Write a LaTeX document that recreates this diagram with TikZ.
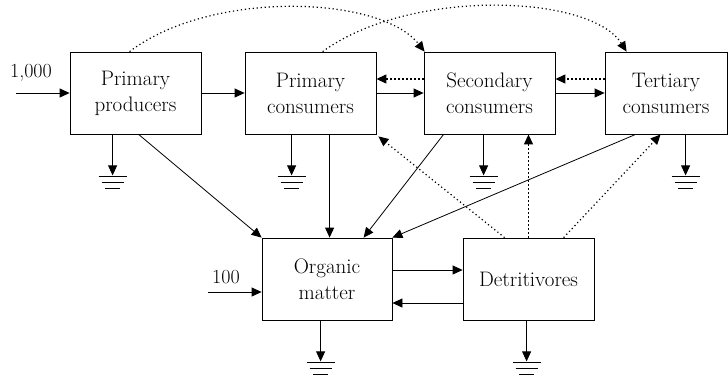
\documentclass[tikz,border=0pt]{standalone}
\usepackage{fontspec}
\usetikzlibrary{arrows.meta}
\begin{document}
\begin{tikzpicture}[x=1pt,y=-1pt,
  lw/.style={line width=0.8pt},
  box/.style={draw,lw,minimum width=131pt,minimum height=82pt,inner sep=0pt,align=center,
    font=\fontsize{21}{26}\selectfont},
  arr/.style={lw,-{Triangle[length=10pt,width=9pt]}},
  dotarr/.style={arr,line width=1.2pt,dash pattern=on 1.2pt off 2.8pt},
  lbl/.style={font=\fontsize{20}{24}\selectfont,inner sep=0pt}]
\useasboundingbox (0,0) rectangle (728,378);
\node[box] (pp) at (135.5,93) {Primary\\producers};
\node[box] (pc) at (310.5,93) {Primary\\consumers};
\node[box] (sc) at (489.5,93) {Secondary\\consumers};
\node[box,minimum width=122pt] (tc) at (666,93) {Tertiary\\consumers};
\node[box,minimum width=130pt] (om) at (327,279) {Organic\\matter};
\node[box] (det) at (528.5,279) {Detritivores};
\node[lbl] (l1) at (31,73) {1,000};
\node[lbl] (l2) at (226,277) {100};
\coordinate (in1) at (16,93);
\coordinate (in2) at (208,292);
% inputs
\draw[arr] (in1) -- (pp.west);
\draw[arr] (in2) -- ([yshift=-13pt]om.west);
% chain
\draw[arr] (pp.east) -- (pc.west);
\draw[arr] (pc.east) -- (sc.west);
\draw[arr] (sc.east) -- (tc.west);
\draw[dotarr] ([yshift=14pt]sc.west) -- ([yshift=14pt]pc.east);
\draw[dotarr] ([yshift=14pt]tc.west) -- ([yshift=14pt]sc.east);
% to organic matter
\draw[arr] ([xshift=69pt]pp.south west) -- (om.north west);
\draw[arr] ([xshift=85pt]pc.south west) -- ([xshift=68pt]om.north west);
\draw[arr] ([xshift=20pt]sc.south west) -- ([xshift=102pt]om.north west);
\draw[arr] ([xshift=31pt]tc.south west) -- (om.north east);
% organic <-> detritivores
\draw[arr] ([yshift=9pt]om.east) -- ([yshift=9pt]det.west);
\draw[arr] ([yshift=-24pt]det.west) -- ([yshift=-24pt]om.east);
% detritivores dotted
\draw[dotarr] ([xshift=42pt]det.north west) -- ([xshift=2pt,yshift=-2pt]pc.south east);
\draw[dotarr] (det.north) -- (det.north |- sc.south);
\draw[dotarr] ([xshift=101pt]det.north west) -- ([xshift=56pt]tc.south west);
% top curves
\draw[dotarr] ([xshift=60pt]pp.north west) .. controls (210,-10) and (380,-5) .. ([xshift=1pt]sc.north west);
\draw[dotarr] ([xshift=78pt]pc.north west) .. controls (410,-12) and (590,-6) .. ([xshift=22pt]tc.north west);
% grounds
\foreach \n/\dx in {pp/43,pc/47,sc/60,tc/81,om/59,det/64}{
  \draw[arr] ([xshift=\dx pt]\n.south west) -- ++(0,41) coordinate (g\n);
  \draw[lw] (g\n) +(-14,1) -- +(14,1);
  \draw[lw] (g\n) +(-11,7) -- +(11,7);
  \draw[lw] (g\n) +(-7.5,13) -- +(7.5,13);
}
\end{tikzpicture}
\end{document}
